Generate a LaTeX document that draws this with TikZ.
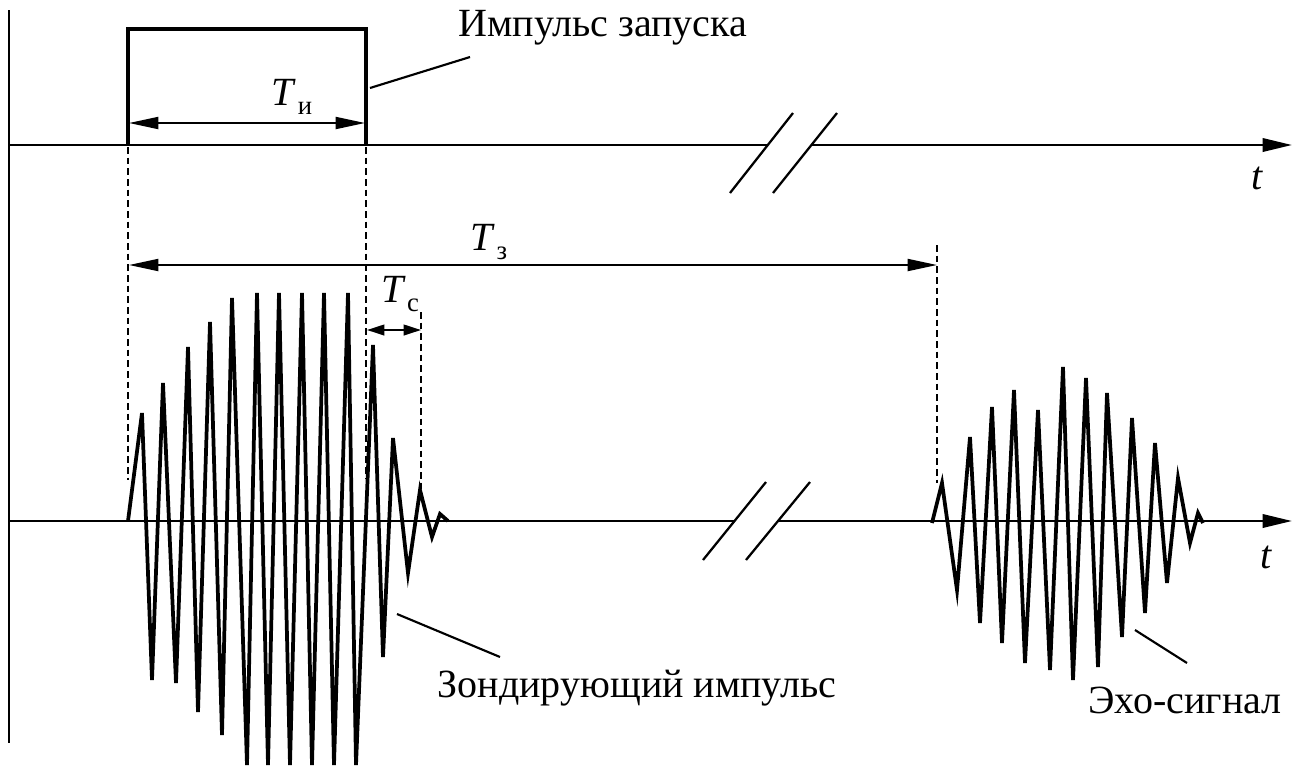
\documentclass[tikz,border=0pt]{standalone}
\usepackage{fontspec}
\setmainfont{Liberation Serif}
\usetikzlibrary{arrows.meta}
\newcommand\sublbl[2]{\textit{#1}\kern1pt\raisebox{-7pt}{\fontsize{20}{24}\selectfont #2}}
\begin{document}
\begin{tikzpicture}[x=0.75pt,y=-0.75pt,
  axis/.style={line width=1.8pt},
  axtip/.style={-{Triangle[length=22pt,width=10pt]}},
  dim/.style={line width=1.4pt,{Triangle[length=22pt,width=9pt]}-{Triangle[length=22pt,width=9pt]}},
  dimsmall/.style={line width=1.4pt,{Triangle[length=13pt,width=8pt]}-{Triangle[length=13pt,width=8pt]}},
  dashline/.style={line width=1.6pt,dash pattern=on 5pt off 3pt},
  wave/.style={line width=2.8pt},
  lbl/.style={inner sep=0pt,font=\fontsize{30}{36}\selectfont},
  lead/.style={line width=1.6pt},
  brk/.style={line width=1.7pt}]
\useasboundingbox (0,0) rectangle (1297,769);

% vertical axis
\draw[axis] (9,10) -- (9,743);

% top axis with break
\coordinate (topstart) at (9,145);
\coordinate (topbrkL) at (768,145);
\coordinate (topbrkR) at (811,145);
\coordinate (topend) at (1292,145);
\draw[axis] (topstart) -- (topbrkL);
\draw[axis,axtip] (topbrkR) -- (topend);
\draw[brk] (730,193) -- (793,113);
\draw[brk] (773,193) -- (837,113);

% bottom axis with break
\coordinate (botstart) at (9,521);
\coordinate (botbrkL) at (735,521);
\coordinate (botbrkR) at (778,521);
\coordinate (botend) at (1292,521);
\draw[axis] (botstart) -- (botbrkL);
\draw[axis,axtip] (botbrkR) -- (botend);
\draw[brk] (703,560) -- (766,482);
\draw[brk] (746,560) -- (810,482);

% trigger pulse
\draw[line width=2.6pt] (128,145) -- (128,29) -- (366,29);
\draw[line width=3.6pt] (366,27.3) -- (366,145);

% dashed verticals
\draw[dashline] (128,147) -- (128,480);
\draw[dashline] (366,147) -- (366,478);
\draw[dashline] (421,312) -- (421,493);
\draw[dashline] (937,245) -- (937,483);

% dimension arrows
\draw[dim] (129,123) -- (365,123);
\draw[dim] (129,265) -- (937,265);
\draw[dimsmall] (367,330) -- (421,330);

% labels
\node[lbl] (Ti) at (292,97) {\sublbl{T}{и}};
\node[lbl] (Tz) at (489,242) {\sublbl{T}{з}};
\node[lbl] (Tc) at (400,294) {\sublbl{T}{с}};
\node[lbl] (t1) at (1257,178) {\textit{t}};
\node[lbl] (t2) at (1266,557) {\textit{t}};

\node[lbl] (trig) at (603,28) {Импульс запуска};
\node[lbl] (sound) at (637,688) {Зондирующий импульс};
\node[lbl] (echo) at (1185,700) {Эхо-сигнал};

% leaders
\coordinate (trigA) at (370,88);
\coordinate (trigB) at (470,57);
\draw[lead] (trigA) -- (trigB);
\coordinate (soundA) at (397,614);
\coordinate (soundB) at (500,657);
\draw[lead] (soundA) -- (soundB);
\coordinate (echoA) at (1135,630);
\coordinate (echoB) at (1187,663);
\draw[lead] (echoA) -- (echoB);

% sounding pulse
\draw[wave] (128,521) -- (142,413) -- (152,680) -- (163,383) -- (176,683)
 -- (188,347) -- (198,712) -- (210,322) -- (222,735) -- (232,298)
 -- (247,765) -- (257,293) -- (268,765) -- (279,293) -- (290,765)
 -- (302,293) -- (312,765) -- (324,293) -- (334,765) -- (348,293)
 -- (356,765) -- (373,345) -- (383,657) -- (393,438) -- (408,573)
 -- (420,490) -- (432,537) -- (440,514) -- (448,521);

% echo
\draw[wave] (932,523) -- (942,483) -- (957,590) -- (970,437) -- (980,623)
 -- (992,407) -- (1002,643) -- (1014,390) -- (1025,663) -- (1038,410)
 -- (1050,670) -- (1063,367) -- (1073,680) -- (1086,378) -- (1098,667)
 -- (1107,393) -- (1122,637) -- (1132,418) -- (1145,613) -- (1155,443)
 -- (1167,583) -- (1178,478) -- (1190,543) -- (1198,513) -- (1203,523);
\end{tikzpicture}
\end{document}
